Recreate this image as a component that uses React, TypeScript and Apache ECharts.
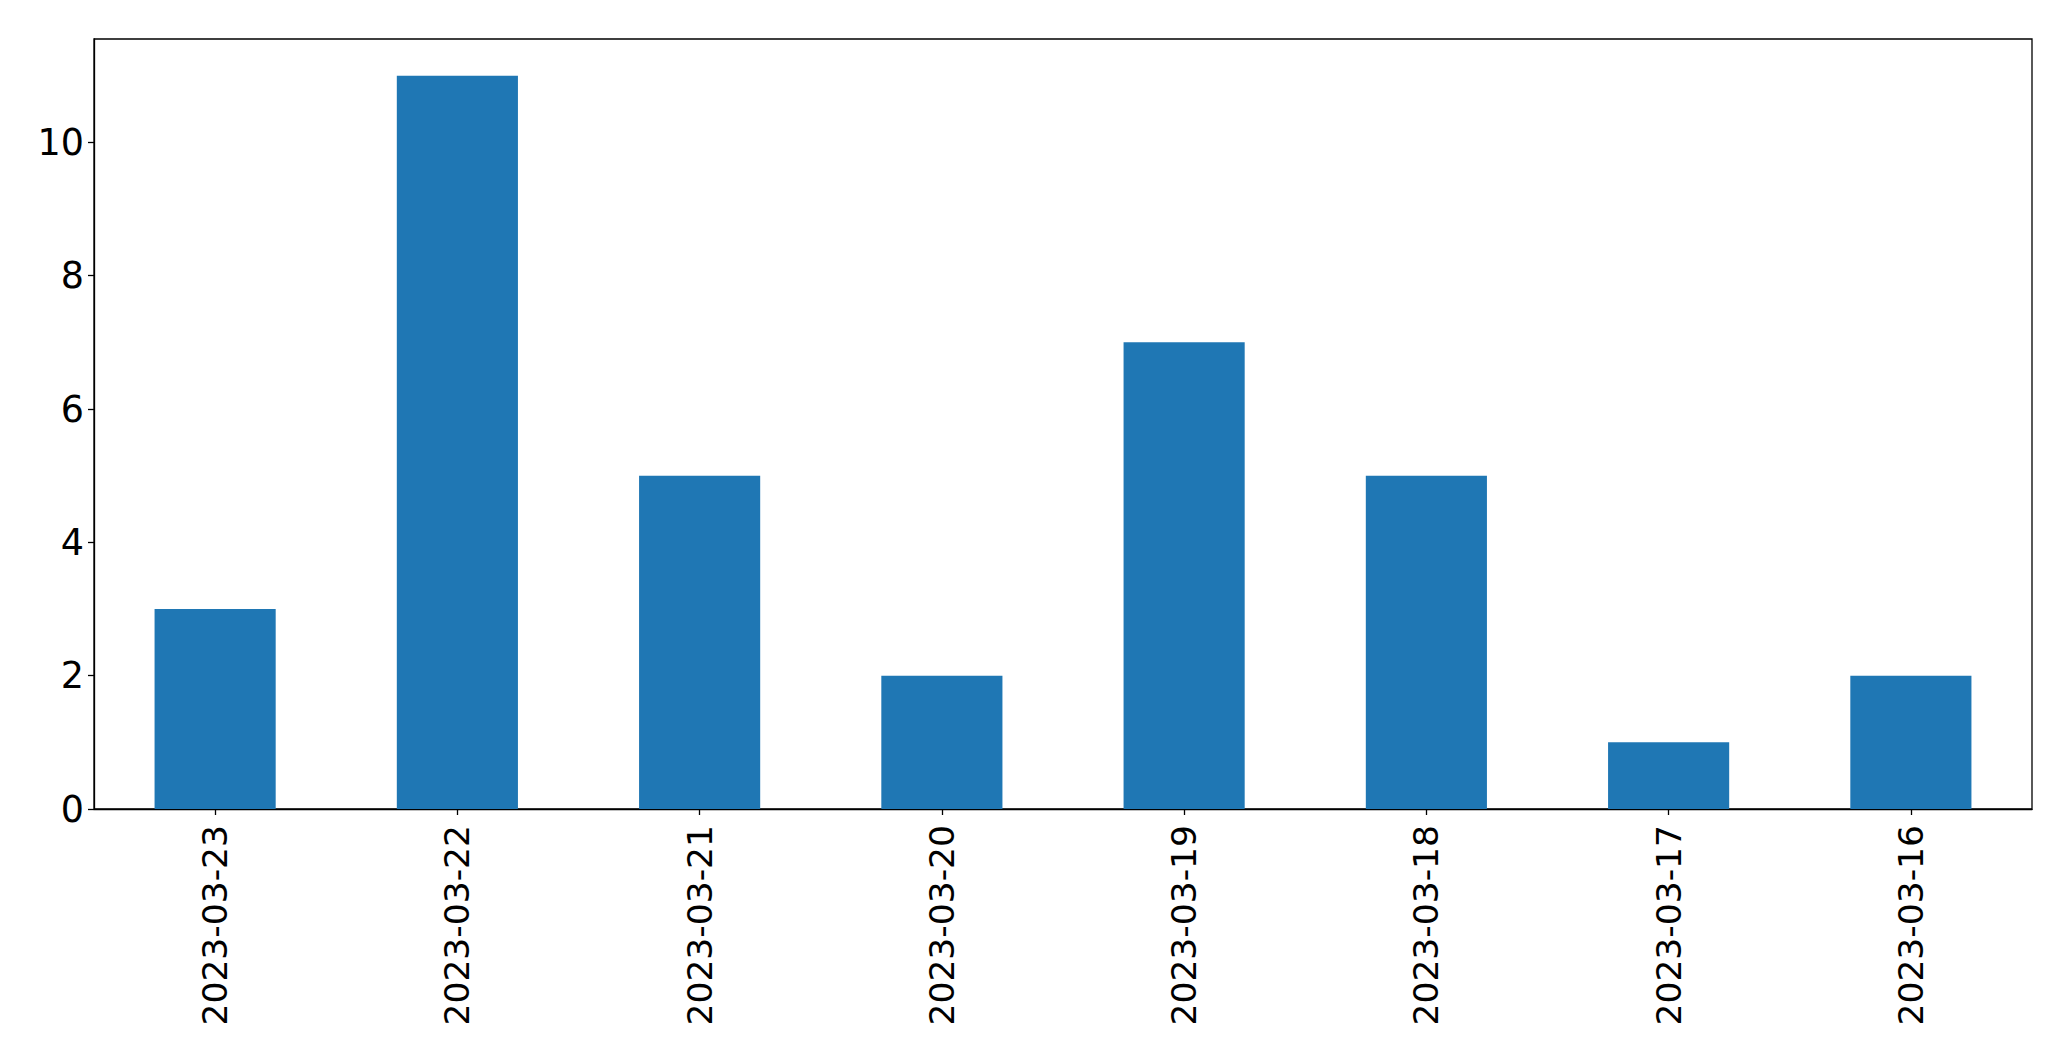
import React, { useEffect, useRef } from "react";
import * as echarts from "echarts";

const categories = ["2023-03-23", "2023-03-22", "2023-03-21", "2023-03-20", "2023-03-19", "2023-03-18", "2023-03-17", "2023-03-16"];
const counts = [3, 11, 5, 2, 7, 5, 1, 2];
const yTicks = [0, 2, 4, 6, 8, 10];
const yMax = 11.55;

export default function App() {
  const ref = useRef<HTMLDivElement>(null);
  useEffect(() => {
    document.body.style.margin = "0";
    const chart = echarts.init(ref.current!, null, { renderer: "svg" });
    chart.setOption({
      animation: false,
      backgroundColor: "#ffffff",
      grid: {
        left: 94,
        top: 39,
        right: 39,
        bottom: 252,
        show: true,
        borderColor: "#000000",
        borderWidth: 1.3,
        containLabel: false,
      },
      xAxis: {
        type: "category",
        data: categories,
        axisLine: { show: true, lineStyle: { color: "#000000", width: 1.3 } },
        axisTick: { show: true, alignWithLabel: true, length: 6, lineStyle: { color: "#000000", width: 1.3 } },
        axisLabel: {
          rotate: 90,
          fontFamily: "DejaVu Sans",
          fontSize: 34.5,
          color: "#000000",
          margin: 16,
          interval: 0,
        },
        splitLine: { show: false },
      },
      yAxis: {
        type: "value",
        min: 0,
        max: yMax,
        axisLine: { show: true, lineStyle: { color: "#000000", width: 1.3 } },
        axisTick: { show: true, length: 6, customValues: yTicks, lineStyle: { color: "#000000", width: 1.3 } },
        axisLabel: {
          customValues: yTicks,
          fontFamily: "DejaVu Sans",
          fontSize: 36.5,
          color: "#000000",
          margin: 10,
        },
        splitLine: { show: false },
      },
      series: [
        {
          type: "bar",
          data: counts,
          barWidth: "50%",
          itemStyle: { color: "#1f77b4" },
        },
      ],
    });
    return () => chart.dispose();
  }, []);
  return <div ref={ref} style={{ width: 2071, height: 1061 }} />;
}
